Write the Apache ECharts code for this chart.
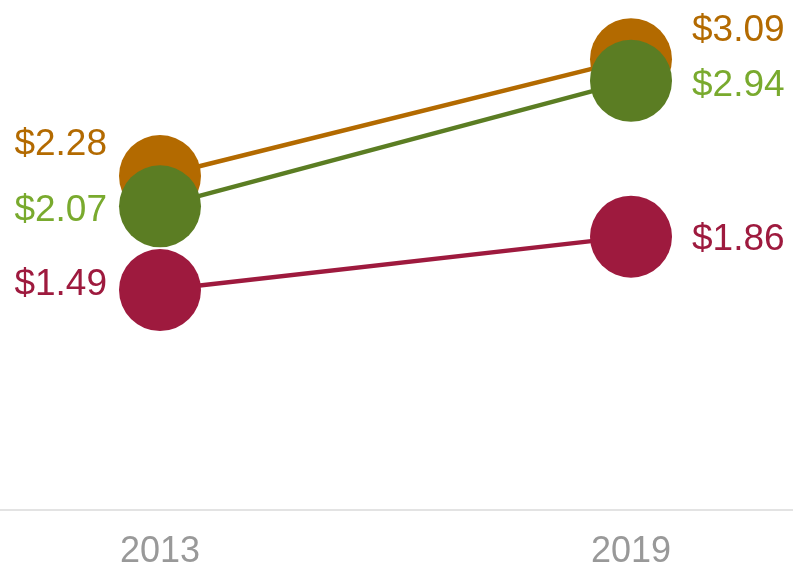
<!DOCTYPE html>
<html>
<head>
<meta charset="utf-8">
<script src="https://cdn.jsdelivr.net/npm/echarts@6/dist/echarts.min.js"></script>
<style>
  html, body { margin: 0; padding: 0; background: #ffffff; }
  #chart { width: 793px; height: 570px; }
</style>
</head>
<body>
<div id="chart"></div>
<script>
// Categories on the x axis
const years = ['2013', '2019'];

// Values per series (dollars)
const valuesA = [2.28, 3.09];
const valuesB = [2.07, 2.94];
const valuesC = [1.49, 1.86];

const FONT = '"Liberation Sans", Arial, sans-serif';

// Build data items with label placement: left of the dot for the first year, right for the last
function points(values, offsets) {
  return values.map(function (v, i) {
    return {
      value: v,
      label: {
        position: i === 0 ? 'left' : 'right',
        distance: i === 0 ? 12 : 20,
        offset: offsets[i]
      }
    };
  });
}

function lineSeries(name, values, dotColor, labelColor, offsets) {
  return {
    name: name,
    type: 'line',
    xAxisIndex: 0,
    yAxisIndex: 0,
    data: points(values, offsets),
    symbol: 'circle',
    symbolSize: 82,
    lineStyle: { color: dotColor, width: 4.5 },
    itemStyle: { color: dotColor },
    label: {
      show: true,
      color: labelColor,
      fontFamily: FONT,
      fontSize: 37,
      formatter: function (p) { return '$' + p.value.toFixed(2); }
    },
    emphasis: { disabled: true },
    animation: false
  };
}

const chart = echarts.init(document.getElementById('chart'), null, { renderer: 'canvas' });

chart.setOption({
  backgroundColor: '#ffffff',
  animation: false,
  grid: [
    // plotting area: the two years sit at its left and right edges
    { left: 160, right: 162, top: 0, bottom: 60, containLabel: false },
    // full-width baseline
    { left: 0, right: 0, top: 0, bottom: 60, containLabel: false }
  ],
  xAxis: [
    {
      type: 'category',
      gridIndex: 0,
      data: years,
      boundaryGap: false,
      axisLine: { show: false },
      axisTick: { show: false },
      axisLabel: { color: '#999999', fontFamily: FONT, fontSize: 36, margin: 29 },
      splitLine: { show: false }
    },
    {
      type: 'category',
      gridIndex: 1,
      data: years,
      axisLine: { show: true, lineStyle: { color: '#e3e3e3', width: 2 } },
      axisTick: { show: false },
      axisLabel: { show: false },
      splitLine: { show: false }
    }
  ],
  yAxis: [
    { type: 'value', gridIndex: 0, min: 0, max: 3.5, show: false, splitLine: { show: false } },
    { type: 'value', gridIndex: 1, min: 0, max: 3.5, show: false, splitLine: { show: false } }
  ],
  series: [
    lineSeries('A', valuesA, '#b36a00', '#b36a00', [[0, -31], [0, -28]]),
    lineSeries('B', valuesB, '#5b7d23', '#79aa2e', [[0, 4], [0, 5]]),
    lineSeries('C', valuesC, '#9e1a3e', '#9e1a3e', [[0, -5], [0, 3]])
  ]
});
</script>
</body>
</html>
